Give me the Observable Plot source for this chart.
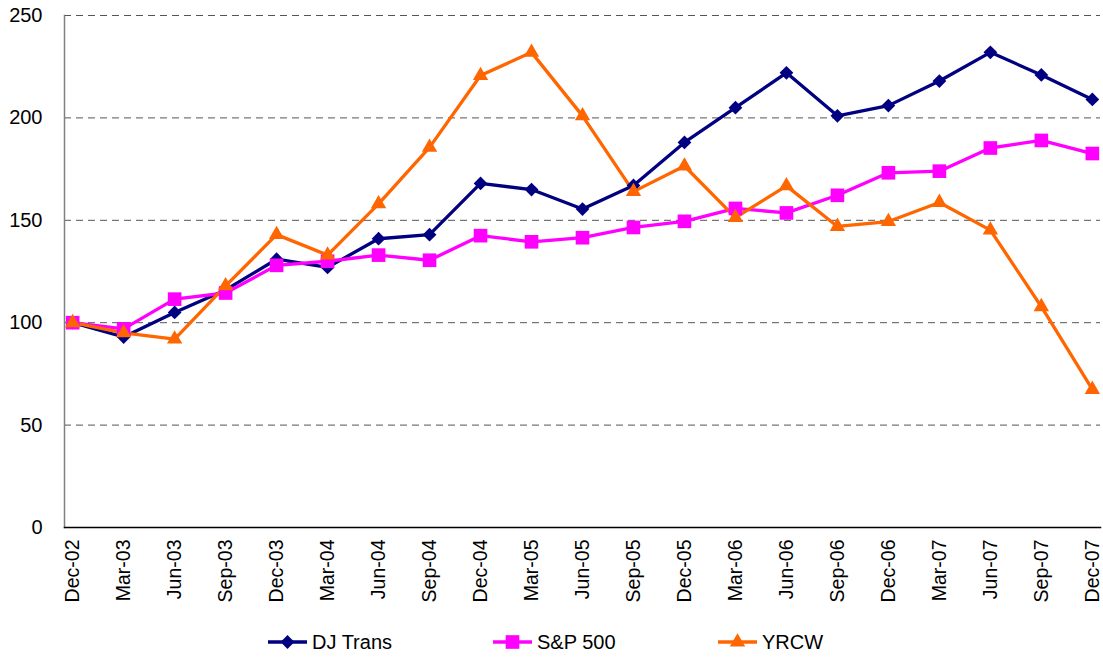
<!DOCTYPE html>
<html>
<head>
<meta charset="utf-8">
<script src="https://cdn.jsdelivr.net/npm/d3@7"></script>
<script src="https://cdn.jsdelivr.net/npm/@observablehq/plot@0.6"></script>
<style>
  body { margin: 0; background: #fff; font-family: "Liberation Sans", Arial, sans-serif; }
  #legend { position: relative; height: 38px; font-size: 20px; color: #000; }
  .item { position: absolute; top: 1px; height: 42px; display: flex; align-items: center; }
  .item svg { margin-right: 5px; }
</style>
</head>
<body>
<div id="chart"></div>
<div id="legend"></div>
<script>
const quarters = ["Dec-02","Mar-03","Jun-03","Sep-03","Dec-03","Mar-04","Jun-04","Sep-04","Dec-04","Mar-05","Jun-05","Sep-05","Dec-05","Mar-06","Jun-06","Sep-06","Dec-06","Mar-07","Jun-07","Sep-07","Dec-07"];
const djTrans = [100, 93, 105, 116, 131, 127, 141, 143, 168, 165, 155.5, 167, 188, 205, 222, 201, 206, 218, 232, 221, 209];
const sp500   = [100, 97, 111.5, 114.5, 128, 130, 133, 130.5, 142.5, 139.5, 141.5, 146.5, 149.5, 155.8, 153.6, 162.2, 173.2, 174, 185.3, 189, 182.6];
const yrcw    = [100, 95, 92, 118, 143, 133, 158, 185.6, 220.7, 232, 201, 164, 176.5, 151.3, 166.8, 147, 149.4, 158.7, 145.2, 107.8, 67.4];
const seriesNames = ["DJ Trans", "S&P 500", "YRCW"];
const seriesColors = ["#000080", "#FF00FF", "#FF6600"];
const seriesSymbols = ["diamond2", "square", "triangle"];
const symbolR = [6.2, 7.7, 5.7];
const yTicks = [0, 50, 100, 150, 200, 250];

const allValues = [djTrans, sp500, yrcw];
const data = [];
allValues.forEach((vals, si) => vals.forEach((v, i) => data.push({q: quarters[i], v, s: seriesNames[si]})));

const marks = [
  Plot.ruleY(yTicks.filter(d => d > 0), {stroke: "#555", strokeWidth: 1, strokeDasharray: "7,5"}),
  Plot.axisY({ticks: yTicks, tickSize: 0, tickPadding: 22, fontSize: 20, label: null}),
  Plot.axisX({tickSize: 0, tickRotate: -90, tickPadding: 12, fontSize: 19.5, label: null}),
];
seriesNames.forEach((name, si) => {
  const d = data.filter(r => r.s === name);
  marks.push(Plot.lineY(d, {x: "q", y: "v", stroke: seriesColors[si], strokeWidth: 3.3}));
});
seriesNames.forEach((name, si) => {
  const d = data.filter(r => r.s === name);
  marks.push(Plot.dot(d, {x: "q", y: "v", fill: seriesColors[si], stroke: "none", symbol: seriesSymbols[si], r: symbolR[si]}));
});
marks.push(Plot.frame({anchor: "left", stroke: "#808080", strokeWidth: 1.5}));
marks.push(Plot.frame({anchor: "bottom", stroke: "#000", strokeWidth: 1.5}));

const chart = Plot.plot({
  width: 1103,
  height: 620,
  marginTop: 15,
  marginLeft: 64,
  marginRight: 3,
  marginBottom: 93,
  style: {fontFamily: "'Liberation Sans', Arial, sans-serif", color: "#000", background: "#fff"},
  x: {type: "point", domain: quarters, padding: 0.16, round: false},
  y: {domain: [0, 250]},
  marks
});
document.getElementById("chart").appendChild(chart);

const legend = document.getElementById("legend");
const legendLeft = [268, 493, 718];
seriesNames.forEach((name, si) => {
  const item = document.createElement("div");
  item.className = "item";
  item.style.left = legendLeft[si] + "px";
  const svg = d3.create("svg").attr("width", 39).attr("height", 18);
  svg.append("line").attr("x1", 0).attr("x2", 39).attr("y1", 9).attr("y2", 9).attr("stroke", seriesColors[si]).attr("stroke-width", 3.3);
  const symMap = {diamond2: d3.symbolDiamond2, square: d3.symbolSquare, triangle: d3.symbolTriangle};
  svg.append("path").attr("transform", "translate(19.5,9)").attr("fill", seriesColors[si])
    .attr("d", d3.symbol(symMap[seriesSymbols[si]], Math.PI * symbolR[si] * symbolR[si])());
  item.appendChild(svg.node());
  const t = document.createElement("span");
  t.textContent = name;
  item.appendChild(t);
  legend.appendChild(item);
});
</script>
</body>
</html>
